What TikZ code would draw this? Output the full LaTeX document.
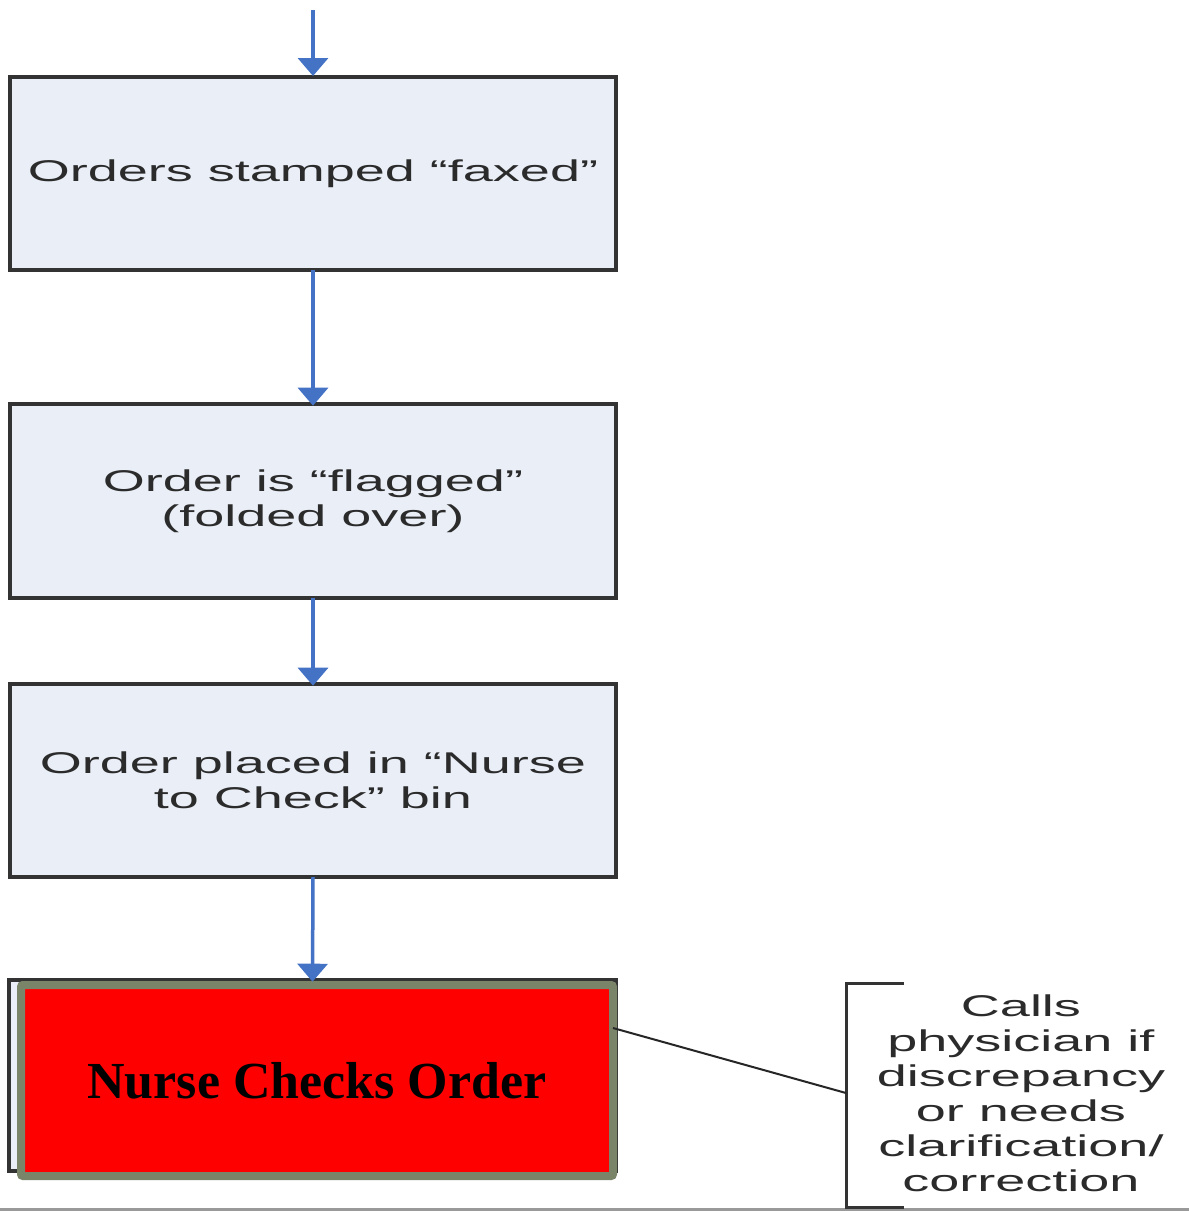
\documentclass[tikz,border=0pt]{standalone}
\usepackage{fontspec}
\usetikzlibrary{arrows.meta}
\newfontfamily\widesans[FakeStretch=1.8]{Liberation Sans}
\newfontfamily\boldserif{Liberation Serif}
\definecolor{boxfill}{HTML}{E9EEF7}
\definecolor{boxline}{HTML}{333333}
\definecolor{arrowblue}{HTML}{4472C4}
\definecolor{redborder}{HTML}{7A8469}
\definecolor{txtgray}{HTML}{2B2B2B}
\tikzset{
  stepbox/.style={draw=boxline, line width=3.5pt, fill=boxfill, inner sep=0pt, outer sep=0pt,
    align=center, text=txtgray, font=\widesans\fontsize{30}{35}\selectfont},
  flowarrow/.style={draw=arrowblue, line width=3.5pt,
    -{Triangle[width=30pt,length=18pt]}, arrowblue},
  redbox/.style={draw=redborder, line width=8pt, fill=red, rounded corners=2pt,
    inner sep=0pt, outer sep=0pt, font=\boldserif\bfseries\fontsize{52}{57}\selectfont},
  note/.style={align=center, text=txtgray, font=\widesans\fontsize{30}{35}\selectfont, inner sep=0pt},
}
\begin{document}
\begin{tikzpicture}[x=1pt, y=-1pt]
\useasboundingbox (0,0) rectangle (1189,1211);
\fill[white] (0,0) rectangle (1189,1211);

\coordinate (start) at (313,10);
\node[stepbox, minimum width=606pt, minimum height=193pt] (b1) at (313,173.5) {Orders stamped “faxed”};
\node[stepbox, minimum width=606pt, minimum height=194pt] (b2) at (313,501) {Order is “flagged”\\(folded over)};
\node[stepbox, minimum width=606pt, minimum height=193pt] (b3) at (313,780.5) {Order placed in “Nurse\\to Check” bin};
\node[stepbox, minimum width=607pt, minimum height=191pt] (b4) at (312.5,1075.5) {};
\node[redbox, minimum width=592pt, minimum height=191pt] (red) at (317,1080.5) {Nurse Checks Order};

\draw[flowarrow] (start) -- (313,76);
\draw[flowarrow] (b1.south) -- ([yshift=-1.7pt]b2.north);
\draw[flowarrow] (b2.south) -- ([yshift=-1.7pt]b3.north);
\draw[flowarrow] (b3.south) -- ([yshift=-1.7pt]b4.north);

% bottom gray rule
\draw[draw=gray!80, line width=3pt] (0,1209) -- (1189,1209);

% bracket annotation
\coordinate (bk) at (846,1093);
\coordinate (bkt) at (904,983);
\coordinate (bkb) at (904,1207);
\draw[draw=boxline, line width=3pt] (bkt) -- (846,983) -- (846,1207) -- (bkb);
\draw[draw=black!85, line width=2pt] (red.east |- 0,1028) -- (bk);
\node[note] (nt) at (1021,1093) {Calls\\physician if\\discrepancy\\or needs\\clarification/\\correction};
\end{tikzpicture}
\end{document}
